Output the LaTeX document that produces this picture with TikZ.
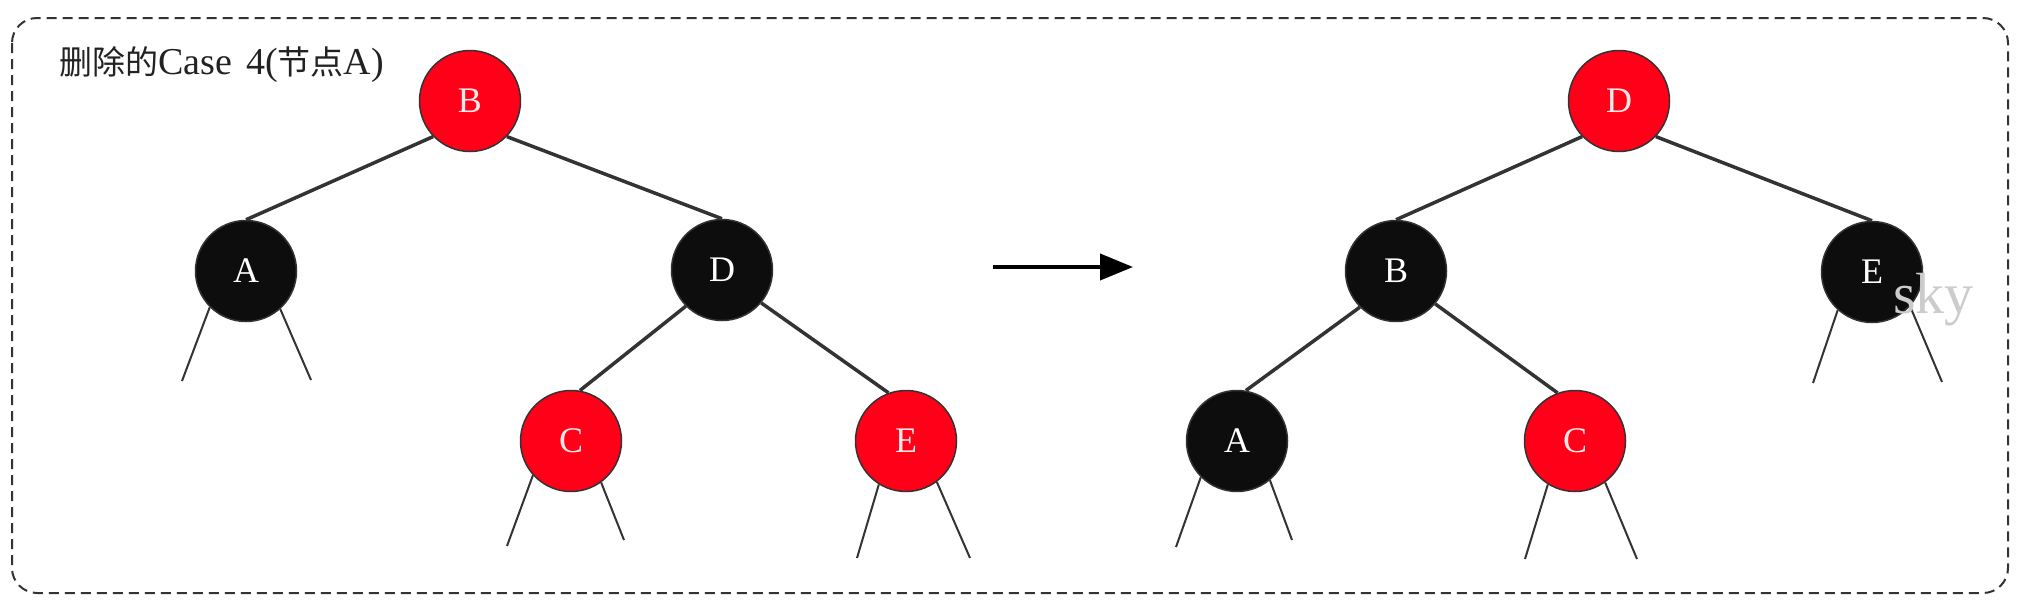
\documentclass[tikz,border=0pt]{standalone}
\usepackage{fontspec}
\setmainfont{Liberation Serif}
\newfontfamily\cjk{Noto Sans CJK SC}
\newcommand\cjktext[1]{{\fontsize{33}{40}\selectfont\cjk #1}}
\usetikzlibrary{arrows.meta}
\definecolor{rbred}{HTML}{FF0018}
\definecolor{rbblack}{HTML}{0D0D0D}
\definecolor{edgegray}{HTML}{333333}
\definecolor{pinkw}{HTML}{FFE8E8}
\definecolor{wmgray}{HTML}{CCCCCC}
\definecolor{titlegray}{HTML}{222222}
\tikzset{
  rbnode/.style={circle, minimum size=101pt, inner sep=0pt, draw=edgegray, line width=1.5pt, font=\fontsize{36}{42}\selectfont},
  rednode/.style={rbnode, fill=rbred, text=pinkw},
  blacknode/.style={rbnode, fill=rbblack, text=white},
  treeedge/.style={draw=edgegray, line width=3.5pt},
  stub/.style={draw=edgegray, line width=2pt},
  frame/.style={draw=edgegray, line width=2pt, dash pattern=on 10pt off 6pt, rounded corners=25pt},
  bigarrow/.style={draw=black, line width=4pt, -{Triangle[length=33pt,width=26pt]}},
}
\begin{document}
\begin{tikzpicture}[x=1pt,y=-1pt]
\useasboundingbox (0,0) rectangle (2024,608);
\draw[frame] (12,18) rectangle (2008,593);

\node[anchor=base west, inner sep=0pt, text=titlegray, font=\fontsize{38}{44}\selectfont] (title) at (59,74) {\cjktext{删除的}Case\hspace{14pt}4(\cjktext{节点}A)};

% left tree
\node[rednode]   (lB) at (470,101) {B};
\node[blacknode] (lA) at (246,271) {A};
\node[blacknode] (lD) at (722,270) {D};
\node[rednode]   (lC) at (571,441) {C};
\node[rednode]   (lE) at (906,441) {E};
\draw[treeedge] (lB.224) -- (lA.north);
\draw[treeedge] (lB.316) -- (lD.north);
\draw[treeedge] (lD.225) -- (lC.80);
\draw[treeedge] (lD.320) -- (lE.110);

\coordinate (lAl) at (182,381);  \coordinate (lAr) at (311,380);
\coordinate (lCl) at (507,546);  \coordinate (lCr) at (624,540);
\coordinate (lEl) at (857,558);  \coordinate (lEr) at (970,558);
\draw[stub] (lA.225) -- (lAl); \draw[stub] (lA.312) -- (lAr);
\draw[stub] (lC.222) -- (lCl); \draw[stub] (lC.306) -- (lCr);
\draw[stub] (lE.238) -- (lEl); \draw[stub] (lE.307) -- (lEr);

% arrow
\coordinate (arrS) at (993,267);
\coordinate (arrE) at (1133,267);
\draw[bigarrow] (arrS) -- (arrE);

% right tree
\node[rednode]   (rD) at (1619,101) {D};
\node[blacknode] (rB) at (1396,271) {B};
\node[blacknode] (rE) at (1872,272) {E};
\node[blacknode] (rA) at (1237,441) {A};
\node[rednode]   (rC) at (1575,441) {C};
\draw[treeedge] (rD.224) -- (rB.north);
\draw[treeedge] (rD.316) -- (rE.north);
\draw[treeedge] (rB.225) -- (rA.80);
\draw[treeedge] (rB.320) -- (rC.110);

\coordinate (rAl) at (1176,547); \coordinate (rAr) at (1292,540);
\coordinate (rCl) at (1525,559); \coordinate (rCr) at (1637,559);
\coordinate (rEl) at (1813,383); \coordinate (rEr) at (1942,382);
\draw[stub] (rA.225) -- (rAl); \draw[stub] (rA.310) -- (rAr);
\draw[stub] (rC.238) -- (rCl); \draw[stub] (rC.306) -- (rCr);
\draw[stub] (rE.228) -- (rEl); \draw[stub] (rE.318) -- (rEr);

\node[anchor=base west, inner sep=0pt, text=wmgray, font=\fontsize{58}{66}\selectfont] (wmark) at (1893,313) {sky};
\end{tikzpicture}
\end{document}
